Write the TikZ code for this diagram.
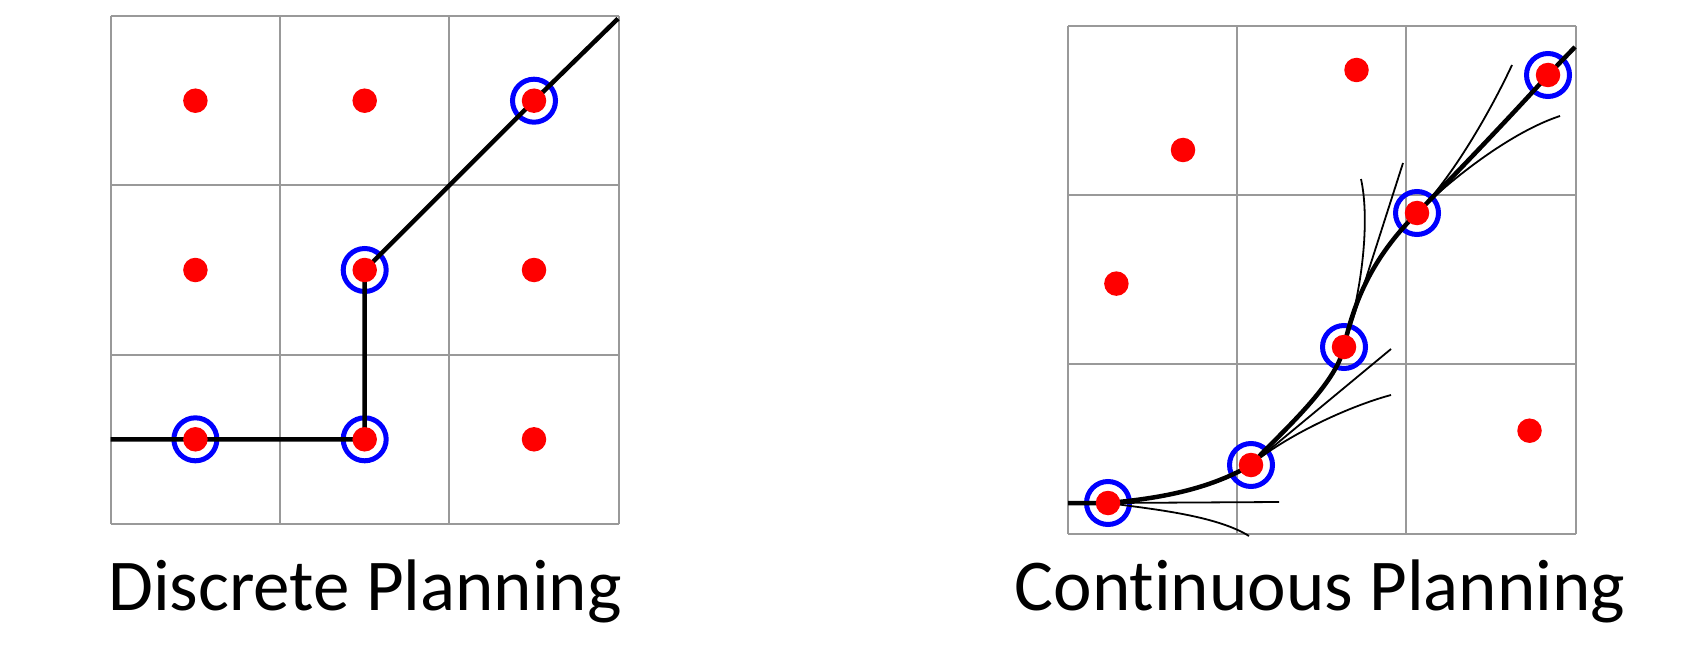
\documentclass[tikz,border=0pt]{standalone}
\usepackage{fontspec}
\setmainfont[Ligatures=NoCommon]{Carlito}
\begin{document}
\begin{tikzpicture}[x=1pt, y=-1pt,
	cell/.style={draw=gray!80, line width=2pt},
	ring/.style={circle, draw=blue, line width=5pt, inner sep=0pt, minimum size=43pt},
	goal/.style={circle, fill=red, inner sep=0pt, minimum size=24.5pt},
	route/.style={black, line width=4.5pt},
	branch/.style={black, line width=1.8pt},
	caption/.style={anchor=base, inner sep=0pt, font=\fontsize{73}{88}\selectfont}]

	\useasboundingbox (0,0) rectangle (1683,671);

	% discrete grid
	\foreach \i in {0,...,3} {
		\draw[cell] ({110.7+169.3*\i},16.1) -- ({110.7+169.3*\i},524);
		\draw[cell] (110.7,{16.1+169.3*\i}) -- (618.6,{16.1+169.3*\i});
	}
	\foreach \i in {0,1,2} \foreach \j in {0,1,2}
		\coordinate (l\i\j) at ({195.4+169.3*\i},{100.7+169.3*\j});
	\coordinate (lin) at (110.7,439.4);
	\coordinate (lout) at (618,18.6);

	\node[ring] (r1) at (l02) {};
	\node[ring] (r2) at (l12) {};
	\node[ring] (r3) at (l11) {};
	\node[ring] (r4) at (l20) {};
	\draw[route] (lin) -- (l02) -- (l12) -- (l11) -- (l20) -- (lout);
	\foreach \i in {0,1,2} \foreach \j in {0,1,2}
		\node[goal] (g\i\j) at (l\i\j) {};

	% continuous grid
	\foreach \i in {0,...,3} {
		\draw[cell] ({1068+169.2*\i},26) -- ({1068+169.2*\i},533.6);
		\draw[cell] (1068,{26+169.2*\i}) -- (1575.6,{26+169.2*\i});
	}
	\coordinate (w1) at (1108,503);
	\coordinate (w2) at (1251,465);
	\coordinate (w3) at (1344,347);
	\coordinate (w4) at (1417,213);
	\coordinate (w5) at (1548,75);
	\coordinate (rin) at (1068,503);
	\coordinate (rout) at (1575,47);
	\coordinate (t1) at (1279,502);
	\coordinate (t2) at (1249,536);
	\coordinate (t3) at (1391,349);
	\coordinate (t4) at (1391,395);
	\coordinate (t5) at (1403,163);
	\coordinate (t6) at (1361,179);
	\coordinate (t7) at (1512,65);
	\coordinate (t8) at (1560,116);

	\node[ring] (s1) at (w1) {};
	\node[ring] (s2) at (w2) {};
	\node[ring] (s3) at (w3) {};
	\node[ring] (s4) at (w4) {};
	\node[ring] (s5) at (w5) {};

	% tried motions
	\draw[branch] (w1) -- (t1);
	\draw[branch] (w1) .. controls (1147.6,508.6) and (1215.1,514.8) .. (t2);
	\draw[branch] (w2) -- (t3);
	\draw[branch] (w2) .. controls (1285.5,436.1) and (1347.5,406.7) .. (t4);
	\draw[branch] (w3) -- (t5);
	\draw[branch] (w3) .. controls (1362.5,289.9) and (1370,220) .. (t6);
	\draw[branch] (w4) .. controls (1452.4,177.6) and (1490.9,110.3) .. (t7);
	\draw[branch] (w4) .. controls (1452.4,177.6) and (1512.4,131.5) .. (t8);

	\draw[route] (rin) -- (w1)
		.. controls (1157.8,498.6) and (1207.7,490) .. (w2)
		.. controls (1277.8,435.3) and (1335.7,386.1) .. (w3)
		.. controls (1355.4,293.2) and (1378.1,251.9) .. (w4)
		.. controls (1452.4,177.6) and (1514.5,112.2) .. (w5) -- (rout);

	\node[goal] (h1) at (w1) {};
	\node[goal] (h2) at (w2) {};
	\node[goal] (h3) at (w3) {};
	\node[goal] (h4) at (w4) {};
	\node[goal] (h5) at (w5) {};
	\node[goal] (f1) at (1356.5,70) {};
	\node[goal] (f2) at (1183,150) {};
	\node[goal] (f3) at (1116.4,283.6) {};
	\node[goal] (f4) at (1529.5,430.7) {};

	\node[caption] (dlabel) at (365,610) {Discrete Planning};
	\node[caption] (clabel) at (1320,610) {Continuous Planning};
\end{tikzpicture}
\end{document}
